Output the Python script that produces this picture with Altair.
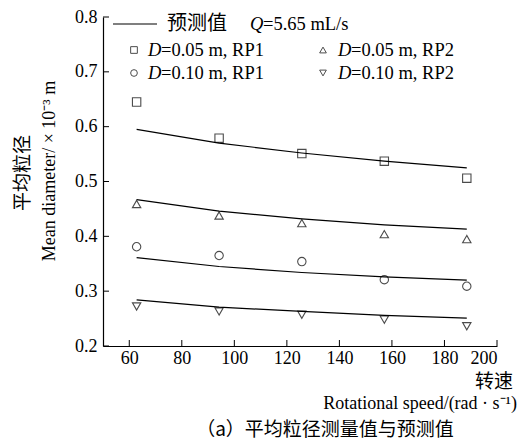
import altair as alt
import pandas as pd

speed = [62.8, 94.2, 125.7, 157.1, 188.5]
series = ["D=0.05 m, RP1", "D=0.05 m, RP2", "D=0.10 m, RP1", "D=0.10 m, RP2"]
measured = {
    "D=0.05 m, RP1": [0.645, 0.579, 0.551, 0.537, 0.506],
    "D=0.05 m, RP2": [0.459, 0.438, 0.424, 0.404, 0.395],
    "D=0.10 m, RP1": [0.381, 0.365, 0.354, 0.321, 0.309],
    "D=0.10 m, RP2": [0.272, 0.263, 0.257, 0.248, 0.236],
}
predicted = {
    "D=0.05 m, RP1": [0.595, 0.570, 0.552, 0.537, 0.525],
    "D=0.05 m, RP2": [0.467, 0.446, 0.432, 0.421, 0.413],
    "D=0.10 m, RP1": [0.361, 0.345, 0.334, 0.326, 0.320],
    "D=0.10 m, RP2": [0.284, 0.271, 0.263, 0.256, 0.251],
}
shapes = ["square", "triangle-up", "circle", "triangle-down"]
x_ticks = [60, 80, 100, 120, 140, 160, 180, 200]
y_ticks = [0.2, 0.3, 0.4, 0.5, 0.6, 0.7, 0.8]

SERIF = "Liberation Serif, Times New Roman, serif"
CJK = "Noto Sans CJK SC"
W, H = 394, 329

rows_m = [{"speed": s, "d": v, "series": k} for k in series for s, v in zip(speed, measured[k])]
rows_p = [{"speed": s, "d": v, "series": k} for k in series for s, v in zip(speed, predicted[k])]
dm = pd.DataFrame(rows_m)
dp = pd.DataFrame(rows_p)

xscale = alt.Scale(domain=[50, 200], nice=False, zero=False)
yscale = alt.Scale(domain=[0.2, 0.8], nice=False, zero=False)

xaxis = alt.Axis(values=x_ticks, format="d", title=None, grid=False, ticks=False,
                 labelFont=SERIF, labelFontSize=18, labelColor="black", labelPadding=3,
                 domainColor="black", domainWidth=1.2)
yaxis = alt.Axis(values=y_ticks, format=".1f", title=None, grid=False, ticks=False,
                 labelFont=SERIF, labelFontSize=18, labelColor="black", labelPadding=6,
                 domainColor="black", domainWidth=1.2)

lines = alt.Chart(dp).mark_line(color="black", strokeWidth=1.2).encode(
    x=alt.X("speed:Q", scale=xscale, axis=xaxis),
    y=alt.Y("d:Q", scale=yscale, axis=yaxis),
    detail="series:N",
)
points = alt.Chart(dm).mark_point(filled=False, color="black", strokeWidth=1.1, size=70).encode(
    x=alt.X("speed:Q", scale=xscale, axis=xaxis),
    y=alt.Y("d:Q", scale=yscale, axis=yaxis),
    shape=alt.Shape("series:N", scale=alt.Scale(domain=series, range=shapes), legend=None),
)

xt = alt.Chart(pd.DataFrame({"t": x_ticks})).mark_rule(color="black", strokeWidth=1).encode(
    x=alt.X("t:Q", scale=xscale, axis=xaxis), y=alt.value(H), y2=alt.value(H - 6))
yt = alt.Chart(pd.DataFrame({"t": y_ticks})).mark_rule(color="black", strokeWidth=1).encode(
    y=alt.Y("t:Q", scale=yscale, axis=yaxis), x=alt.value(0), x2=alt.value(6))

one = pd.DataFrame({"a": [0]})


def txt(text, x, y, font=SERIF, size=18.5, align="left", italic=False, angle=0):
    kw = dict(text=text, font=font, fontSize=size, align=align, baseline="middle", color="black")
    if italic:
        kw["fontStyle"] = "italic"
    if angle:
        kw["angle"] = angle
    return alt.Chart(one).mark_text(**kw).encode(x=alt.value(x), y=alt.value(y))


def sym(shape, x, y):
    return alt.Chart(one).mark_point(shape=shape, filled=False, color="black", size=45,
                                     strokeWidth=1).encode(x=alt.value(x), y=alt.value(y))


leg_line = alt.Chart(one).mark_rule(color="black", strokeWidth=1.2).encode(
    x=alt.value(10), x2=alt.value(54), y=alt.value(7))

legend = [
    leg_line,
    txt("预测值", 64, 7, font=CJK, size=20),
    txt("Q", 147, 7, italic=True),
    txt("=5.65 mL/s", 160, 7),
    sym("square", 31, 33), txt("D", 45, 33, italic=True), txt("=0.05 m, RP1", 58, 33),
    sym("circle", 31, 56), txt("D", 45, 56, italic=True), txt("=0.10 m, RP1", 58, 56),
    sym("triangle-up", 220, 33), txt("D", 235, 33, italic=True), txt("=0.05 m, RP2", 248, 33),
    sym("triangle-down", 220, 56), txt("D", 235, 56, italic=True), txt("=0.10 m, RP2", 248, 56),
]

titles = [
    txt("转速", 410, 365, font=CJK, size=19, align="right"),
    txt("Rotational speed/(rad · s⁻¹)", 414, 387, size=18, align="right"),
    txt("（a）平均粒径测量值与预测值", 222, 413, font=CJK, size=19, align="center"),
    txt("平均粒径", -80, 156, font=CJK, size=19, align="center", angle=270),
    txt("Mean diameter/ × 10⁻³ m", -53, 154, size=18, align="center", angle=270),
]

chart = alt.layer(lines, points, xt, yt, *legend, *titles).properties(
    width=W, height=H,
    autosize=alt.AutoSizeParams(type="none"),
    padding={"left": 95, "top": 9, "right": 21, "bottom": 96},
).configure_view(stroke=None).configure_axis(
    labelFont=SERIF, labelFontSize=18, labelColor="black"
)

chart.save("out.html", embed_options={"renderer": "svg", "actions": False})
